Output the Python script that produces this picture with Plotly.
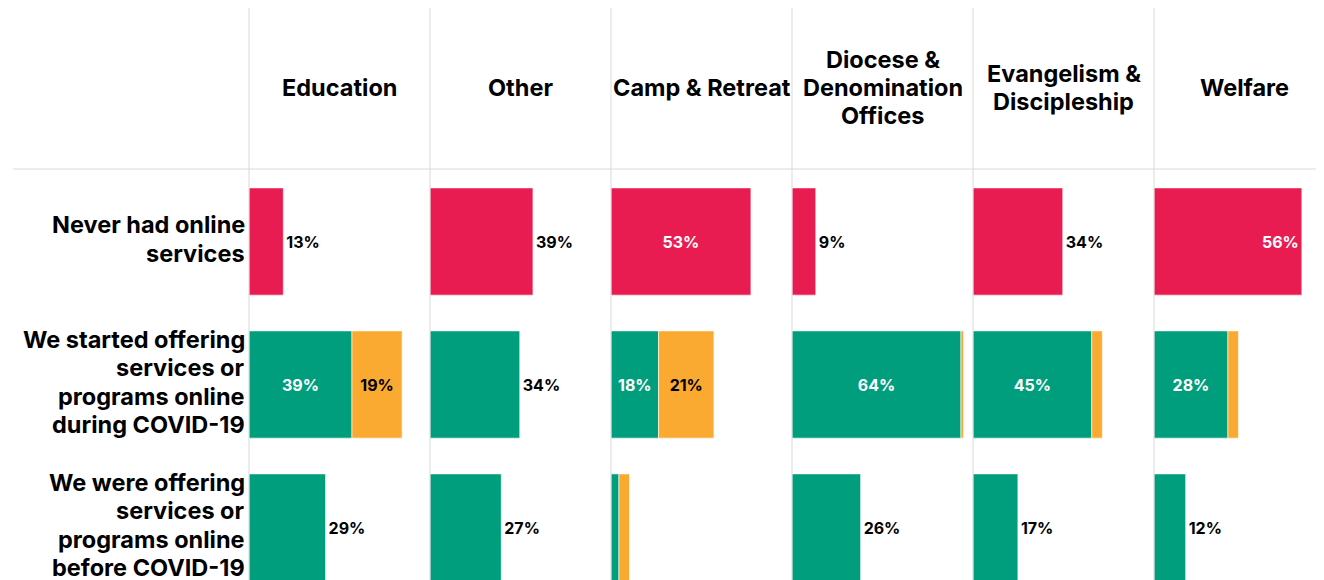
import plotly.graph_objects as go

# ---------------- data ----------------
column_lines = [["Education"], ["Other"], ["Camp & Retreat"],
                ["Diocese &", "Denomination", "Offices"],
                ["Evangelism &", "Discipleship"], ["Welfare"]]
row_lines = [["Never had online", "services"],
             ["We started offering", "services or", "programs online", "during COVID-19"],
             ["We were offering", "services or", "programs online", "before COVID-19"]]
rows = [" ".join(r) for r in row_lines]

never = [13, 39, 53, 9, 34, 56]
started_green = [39, 34, 18, 64, 45, 28]
started_orange = [19, 0, 21, 1, 4, 4]
before_green = [29, 27, 3, 26, 17, 12]
before_orange = [0, 0, 4, 0, 0, 0]

# label placement (style)
never_pos = ["outside", "outside", "inside", "outside", "outside", "inside_end"]
started_green_pos = ["inside", "outside", "inside", "inside", "inside", "inside"]
started_orange_show = [True, False, True, False, False, False]
before_green_show = [True, True, False, True, True, True]

RED = "#E91C51"
GREEN = "#009E7D"
ORANGE = "#FBAA31"
OFF = 8                      # browser body margin
W, H = 1324 - OFF, 580 - OFF  # figure size
COL0, COLW = 249 - OFF, 181
PXPER = 2.64
HEAD_Y = 169 - OFF
BAND_TOP = 170 - OFF
BAND = 143
LINE_H = 28.3

FONT = "Inter"
LBL = 16
HDR = 23.5

fig = go.Figure()
outline = dict(color="rgba(255,255,255,0.6)", width=1)
in_w = dict(color="white", family=FONT, size=LBL, weight=700)
in_k = dict(color="black", family=FONT, size=LBL, weight=700)
out_k = dict(color="black", family=FONT, size=LBL, weight=700)

for i in range(len(column_lines)):
    xa = "x" if i == 0 else f"x{i+1}"
    pos = never_pos[i]
    fig.add_trace(go.Bar(
        x=[never[i]], y=[rows[0]], orientation="h", xaxis=xa, yaxis="y",
        marker=dict(color=RED, line=outline),
        text=[f"{never[i]}%"], textposition="inside" if pos.startswith("inside") else "outside",
        insidetextanchor="end" if pos == "inside_end" else "middle",
        insidetextfont=in_w, outsidetextfont=out_k,
        textangle=0, cliponaxis=False, showlegend=False, hoverinfo="skip"))
    fig.add_trace(go.Bar(
        x=[started_green[i]], y=[rows[1]], orientation="h", xaxis=xa, yaxis="y",
        marker=dict(color=GREEN, line=outline),
        text=[f"{started_green[i]}%"], textposition=started_green_pos[i],
        insidetextanchor="middle", insidetextfont=in_w, outsidetextfont=out_k,
        textangle=0, cliponaxis=False, showlegend=False, hoverinfo="skip"))
    fig.add_trace(go.Bar(
        x=[before_green[i]], y=[rows[2]], orientation="h", xaxis=xa, yaxis="y",
        marker=dict(color=GREEN, line=outline),
        text=[f"{before_green[i]}%" if before_green_show[i] else ""],
        textposition="outside", outsidetextfont=out_k,
        textangle=0, cliponaxis=False, showlegend=False, hoverinfo="skip"))
    ox, oy, ob, ot = [], [], [], []
    if started_orange[i] > 0:
        ox.append(started_orange[i]); oy.append(rows[1]); ob.append(started_green[i])
        ot.append(f"{started_orange[i]}%" if started_orange_show[i] else "")
    if before_orange[i] > 0:
        ox.append(before_orange[i]); oy.append(rows[2]); ob.append(before_green[i])
        ot.append("")
    if ox:
        fig.add_trace(go.Bar(
            x=ox, y=oy, base=ob, orientation="h", xaxis=xa, yaxis="y",
            marker=dict(color=ORANGE, line=outline),
            text=ot, textposition="inside", insidetextanchor="middle",
            insidetextfont=in_k, textangle=0, showlegend=False, hoverinfo="skip"))

layout = dict(
    width=W, height=H, margin=dict(l=0, r=0, t=0, b=0),
    paper_bgcolor="white", plot_bgcolor="white",
    barmode="overlay", bargap=0.25,
    font=dict(family=FONT, color="black", size=LBL),
    showlegend=False,
)
y_top_frac = (H - BAND_TOP) / H
bottom_bands = (H - BAND_TOP) / BAND
layout["yaxis"] = dict(
    domain=[0, y_top_frac], type="category", categoryarray=rows,
    range=[-0.5 + bottom_bands, -0.5], showgrid=False, zeroline=False,
    showline=False, ticks="", showticklabels=False,
    anchor="x", fixedrange=True)

shapes = []
annotations = []
hfont = dict(family=FONT, size=HDR, color="black", weight=700)
for i, lines in enumerate(column_lines):
    left = COL0 + COLW * i
    right = min(left + COLW, W)
    key = "xaxis" if i == 0 else f"xaxis{i+1}"
    layout[key] = dict(domain=[left / W, right / W], range=[0, (right - left) / PXPER],
                       showgrid=False, zeroline=False, showline=False,
                       showticklabels=False, ticks="", anchor="y", fixedrange=True)
    shapes.append(dict(type="line", xref="paper", yref="paper",
                       x0=left / W, x1=left / W, y0=0, y1=1,
                       line=dict(color="#d9d9d9", width=1)))
    n = len(lines)
    for k, t in enumerate(lines):
        yc = (87.5 - OFF) + (k - (n - 1) / 2) * 28
        annotations.append(dict(text=t, xref="paper", yref="paper",
                                x=(left + COLW / 2) / W, y=1 - yc / H,
                                xanchor="center", yanchor="middle", showarrow=False,
                                font=hfont))
for r, lines in enumerate(row_lines):
    n = len(lines)
    for k, t in enumerate(lines):
        annotations.append(dict(text=t, xref="paper", yref="y",
                                x=(247 - OFF) / W, y=rows[r],
                                yshift=-(k - (n - 1) / 2) * LINE_H + 2.5,
                                xanchor="right", yanchor="middle", showarrow=False,
                                font=hfont))
shapes.append(dict(type="line", xref="paper", yref="paper",
                   x0=(13 - OFF) / W, x1=1, y0=1 - HEAD_Y / H, y1=1 - HEAD_Y / H,
                   line=dict(color="#d9d9d9", width=1)))
layout["shapes"] = shapes
layout["annotations"] = annotations
fig.update_layout(**layout)
fig.write_html("out.html", config={"displayModeBar": False})
